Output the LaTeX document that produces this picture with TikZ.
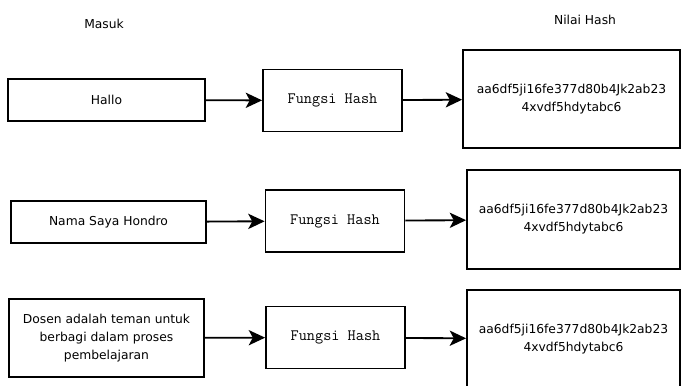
\documentclass[tikz,border=0pt]{standalone}
\usepackage{fontspec}
\setmainfont{DejaVu Sans}
\usetikzlibrary{arrows.meta}

\begin{document}
\begin{tikzpicture}[x=0.03cm, y=-0.03cm,
	every node/.style={font=\fontsize{10.5}{15.3}\selectfont},
	kotak/.style={rectangle, draw=black, line width=1.5pt, align=center, inner sep=0pt},
	fungsi/.style={kotak, minimum width=4.17cm, minimum height=1.86cm, font=\fontsize{13.5}{15}\selectfont\ttfamily},
	panah/.style={draw=black, line width=1.6pt, -{Stealth[length=14pt, width=13pt, inset=3.5pt]}}]
				\useasboundingbox (0,0) rectangle (681,385);
				
				% judul kolom
				\node (masuk) at (104,24){Masuk};
				\node (nilai) at (585,20){Nilai Hash};
				
				% baris 1
				\node[kotak, minimum width=5.91cm, minimum height=1.26cm] (in1) at (106.5,100){Hallo};
				\node[fungsi] (fh1) at (332.5,100.5){Fungsi Hash};
				\node[kotak, minimum width=6.51cm, minimum height=2.94cm] (hv1) at (571.5,99){aa6df5ji16fe377d80b4Jk2ab23\\4xvdf5hdytabc6};
				
				% baris 2
				\node[kotak, minimum width=5.85cm, minimum height=1.26cm] (in2) at (108.5,222){Nama Saya Hondro};
				\node[fungsi] (fh2) at (335,221){Fungsi Hash};
				\node[kotak, minimum width=6.39cm, minimum height=2.97cm] (hv2) at (573.5,219.5){aa6df5ji16fe377d80b4Jk2ab23\\4xvdf5hdytabc6};
				
				% baris 3
				\node[kotak, minimum width=5.85cm, minimum height=2.34cm] (in3) at (106.5,338){Dosen adalah teman untuk\\berbagi dalam proses\\pembelajaran};
				\node[fungsi] (fh3) at (335.5,337.5){Fungsi Hash};
				\node[kotak, minimum width=6.39cm, minimum height=2.94cm] (hv3) at (573.5,339){aa6df5ji16fe377d80b4Jk2ab23\\4xvdf5hdytabc6};
				
				\draw[panah] (in1) -- (fh1);
				\draw[panah] (fh1) -- (hv1);
				\draw[panah] (in2) -- (fh2);
				\draw[panah] (fh2) -- (hv2);
				\draw[panah] (in3) -- (fh3);
				\draw[panah] (fh3) -- (hv3);
				\end{tikzpicture}
\end{document}
